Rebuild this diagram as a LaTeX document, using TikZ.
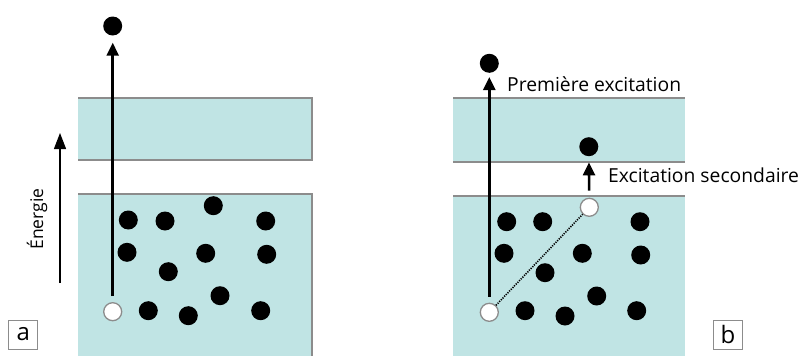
\documentclass[tikz,border=0pt]{standalone}
\usepackage{fontspec}
\setmainfont{Open Sans}
\usetikzlibrary{arrows.meta}
\definecolor{band}{RGB}{192,228,228}
\definecolor{bandline}{RGB}{140,140,140}
\tikzset{
  electron/.style={circle,fill=black,inner sep=0pt,minimum size=19pt},
  hole/.style={circle,fill=white,draw=bandline,line width=1.3pt,inner sep=0pt,minimum size=18pt},
  excite/.style={line width=2.6pt,-{Triangle[length=13pt,width=12pt]}},
  lbl/.style={font=\fontsize{19.3}{22}\selectfont,inner sep=0pt},
  tag/.style={draw=bandline,line width=0.8pt,minimum size=29pt,inner sep=0pt,font=\fontsize{24}{26}\selectfont},
}
\begin{document}
\begin{tikzpicture}[x=1pt,y=-1pt]
\useasboundingbox (0,0) rectangle (803,356);
% ---------- panel a ----------
\fill[band] (78,98) rectangle (312,160);
\draw[bandline,line width=1.8pt] (78,98) -- (312,98) -- (312,160) -- (78,160);
\fill[band] (78,194) rectangle (312,356);
\draw[bandline,line width=1.8pt] (78,194) -- (312,194) -- (312,356);
% ---------- panel b ----------
\fill[band] (453,98) rectangle (685,162);
\draw[bandline,line width=1.8pt] (453,98) -- (685,98);
\draw[bandline,line width=1.8pt] (453,162) -- (685,162);
\fill[band] (453,196) rectangle (685,356);
\draw[bandline,line width=1.8pt] (453,196) -- (685,196);
% energy arrow
\coordinate (e0) at (60,283);
\coordinate (e1) at (60,133);
\draw[line width=1.3pt,-{Triangle[length=16pt,width=12pt]}] (e0) -- (e1);
\node[lbl,font=\fontsize{17.5}{20}\selectfont,rotate=90] (energie) at (37,219) {Énergie};
% panel a dots
\node[electron] (aTop) at (112.7,26) {};
\node[hole] (aHole) at (112.7,311.7) {};
\node[electron] (a1) at (128.3,220) {};
\node[electron] (a2) at (165,221) {};
\node[electron] (a3) at (213.3,205.7) {};
\node[electron] (a4) at (265.7,221) {};
\node[electron] (a5) at (127,252.3) {};
\node[electron] (a6) at (205.7,253.3) {};
\node[electron] (a7) at (266.7,254.3) {};
\node[electron] (a8) at (168.3,271.7) {};
\node[electron] (a9) at (220,295.7) {};
\node[electron] (a10) at (148.3,310.7) {};
\node[electron] (a11) at (188.3,315.7) {};
\node[electron] (a12) at (260.7,310.7) {};
\draw[excite,shorten <=6pt,shorten >=7pt] (aHole) -- (aTop);
\node[tag] (tagA) at (23.3,334.5) {a};
% panel b dots
\node[electron] (bTop) at (489.3,63.3) {};
\node[hole] (bHole) at (489.3,312.3) {};
\node[hole] (bHole2) at (589.3,207.3) {};
\node[electron] (bSec) at (588.8,146.7) {};
\node[electron] (b1) at (506.7,221.7) {};
\node[electron] (b2) at (542.7,221.7) {};
\node[electron] (b3) at (640,221.7) {};
\node[electron] (b4) at (504,253.3) {};
\node[electron] (b5) at (582.3,253.3) {};
\node[electron] (b6) at (640.7,255) {};
\node[electron] (b7) at (545,272.7) {};
\node[electron] (b8) at (596.7,296) {};
\node[electron] (b9) at (525,310.7) {};
\node[electron] (b10) at (565,316) {};
\node[electron] (b11) at (636.7,310.7) {};
\draw[line width=1.6pt,dash pattern=on 1.2pt off 1.2pt] (bHole) -- (bHole2);
\draw[excite,shorten <=6pt,shorten >=4pt] (bHole) -- (bTop);
\draw[excite,shorten <=7pt,shorten >=6pt] (bHole2) -- (bSec);
\node[lbl,anchor=west] (prem) at (507,84) {Première excitation};
\node[lbl,anchor=west] (sec) at (608,175) {Excitation secondaire};
\node[tag] (tagB) at (728,334.7) {b};
\end{tikzpicture}
\end{document}
